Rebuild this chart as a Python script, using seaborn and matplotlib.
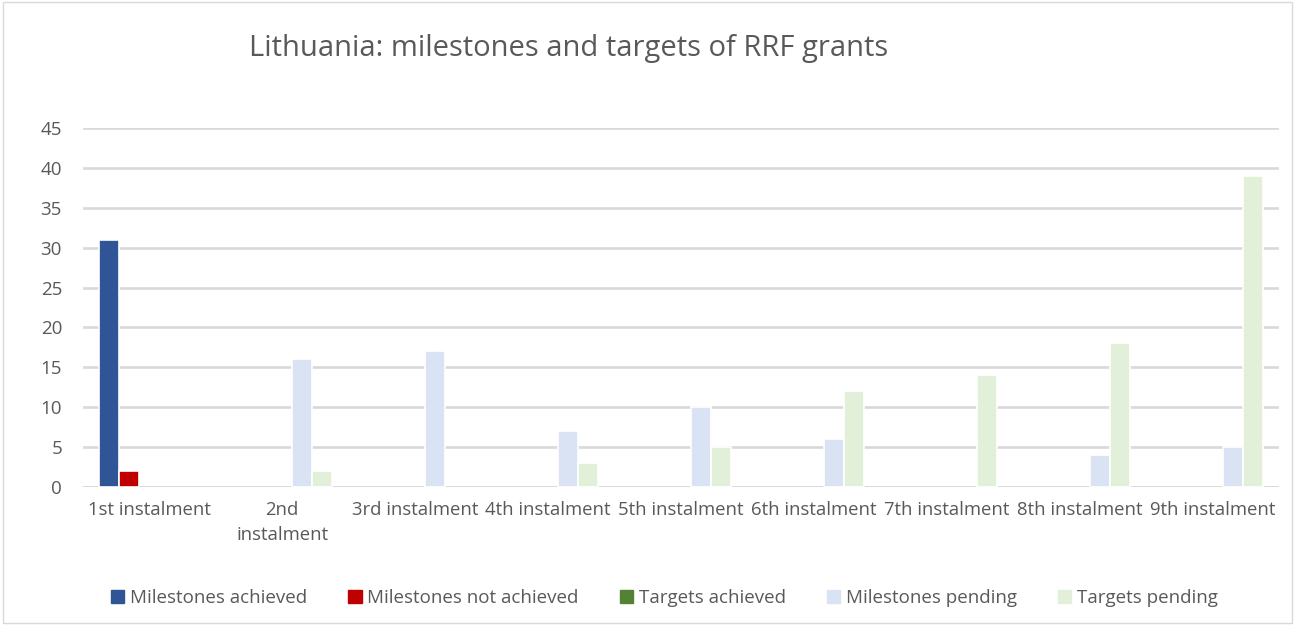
import pandas as pd
import matplotlib.pyplot as plt
import seaborn as sns

categories = ["1st instalment", "2nd\ninstalment", "3rd instalment", "4th instalment",
              "5th instalment", "6th instalment", "7th instalment", "8th instalment",
              "9th instalment"]
series = ["Milestones achieved", "Milestones not achieved", "Targets achieved",
          "Milestones pending", "Targets pending"]
milestones_achieved = [31, 0, 0, 0, 0, 0, 0, 0, 0]
milestones_not_achieved = [2, 0, 0, 0, 0, 0, 0, 0, 0]
targets_achieved = [0, 0, 0, 0, 0, 0, 0, 0, 0]
milestones_pending = [0, 16, 17, 7, 10, 6, 0, 4, 5]
targets_pending = [0, 2, 0, 3, 5, 12, 14, 18, 39]
colors = ["#2F5597", "#C00000", "#548235", "#DAE3F3", "#E2F0D9"]

values = [milestones_achieved, milestones_not_achieved, targets_achieved,
          milestones_pending, targets_pending]
rows = []
for name, vals in zip(series, values):
    for cat, v in zip(categories, vals):
        rows.append({"instalment": cat, "series": name, "value": v})
df = pd.DataFrame(rows)
# empty slots draw nothing (zero-height bars would leave a stray edge line)
df_bars = df[df["value"] > 0]

sns.set_style("white")
plt.rcParams["font.family"] = ["Open Sans", "DejaVu Sans"]
text_color = "#595959"

fig = plt.figure(figsize=(12.95, 6.25), dpi=100)
ax = fig.add_axes([0.064, 0.221, 0.924, 0.574])

sns.barplot(data=df_bars, x="instalment", y="value", hue="series", hue_order=series,
            order=categories, palette=colors, width=0.75, saturation=1,
            edgecolor="white", linewidth=1.2, legend=False, ax=ax)

ax.set_ylim(0, 45)
ax.set_yticks(range(0, 46, 5))
ax.set_xlim(-0.5, len(categories) - 0.5)
ax.yaxis.grid(True, color="#D9D9D9", linewidth=1.9)
ax.set_axisbelow(True)
for side in ["top", "right", "left", "bottom"]:
    ax.spines[side].set_visible(False)
ax.axhline(0, color="#D9D9D9", linewidth=1.9, zorder=0)
ax.set_xlabel("")
ax.set_ylabel("")
ax.tick_params(axis="x", length=0, labelsize=13.3, colors=text_color, pad=10)
ax.tick_params(axis="y", length=0, labelsize=13.5, colors=text_color, pad=15)
for lbl in ax.get_xticklabels():
    lbl.set_verticalalignment("top")
    lbl.set_linespacing(1.5)

fig.text(0.439, 0.922, "Lithuania: milestones and targets of RRF grants",
         ha="center", va="center", fontsize=21, color=text_color)

handles = [plt.Rectangle((0, 0), 1, 1, color=c) for c in colors]
fig.legend(handles, series, loc="center", bbox_to_anchor=(0.513, 0.043), ncol=5,
           frameon=False, fontsize=13.5, labelcolor=text_color, handlelength=0.7,
           handleheight=0.7, handletextpad=0.3, columnspacing=2.2)

border = plt.Rectangle((0.002, 0.003), 0.996, 0.994, transform=fig.transFigure,
                       fill=False, edgecolor="#D9D9D9", linewidth=1)
fig.patches.append(border)

fig.savefig("out.png", dpi=100)
